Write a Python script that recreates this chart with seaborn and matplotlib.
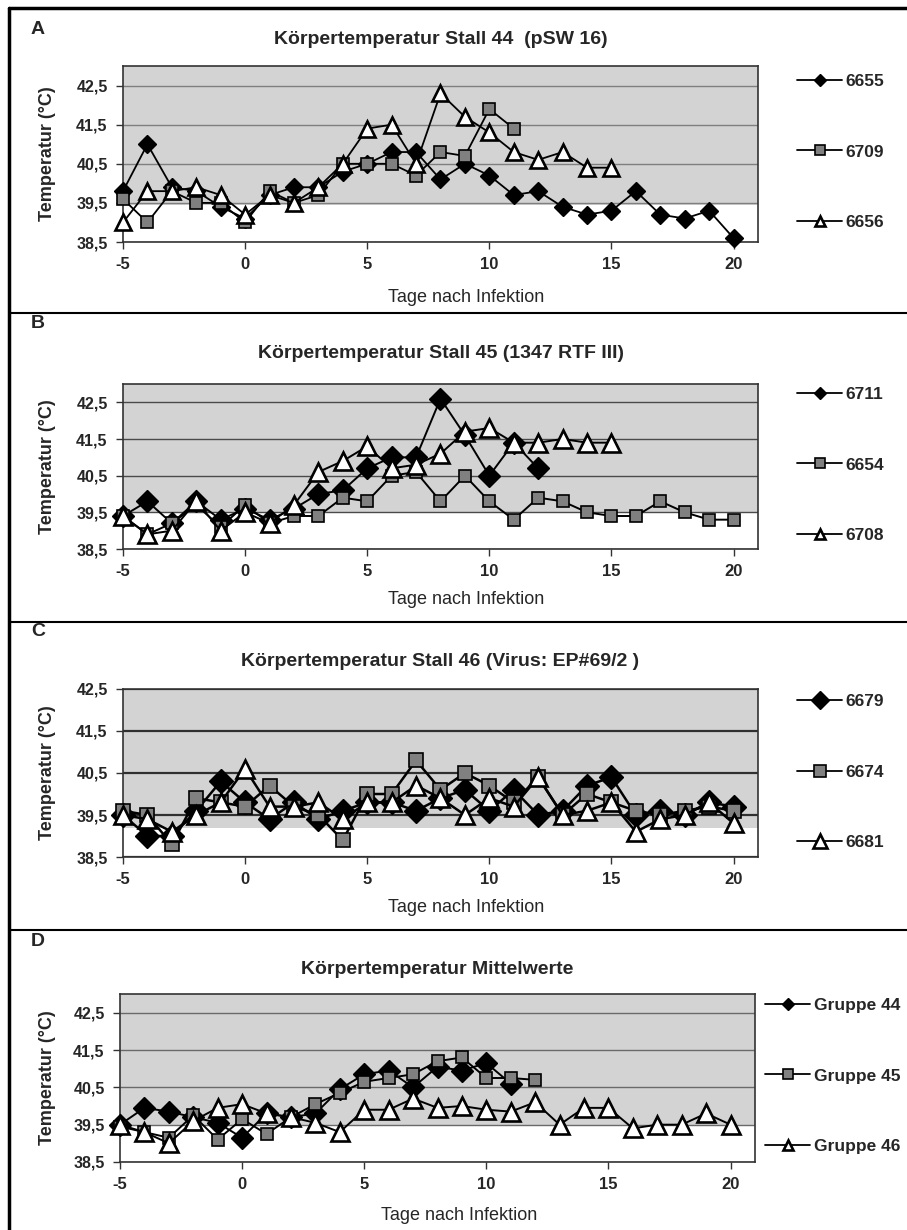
import numpy as np
import pandas as pd
import matplotlib
matplotlib.use("Agg")
import matplotlib.pyplot as plt
import seaborn as sns
from matplotlib.lines import Line2D

sns.set_theme(style="white")
plt.rcParams['font.family'] = ['Liberation Sans', 'DejaVu Sans']

# ---------------- data ----------------
ytick_vals = [38.5, 39.5, 40.5, 41.5, 42.5]
ytick_labels = ["38,5", "39,5", "40,5", "41,5", "42,5"]
xtick_vals = [-5, 0, 5, 10, 15, 20]
xlabel = "Tage nach Infektion"
ylabel = "Temperatur (°C)"

titles = ["Körpertemperatur Stall 44  (pSW 16)",
          "Körpertemperatur Stall 45 (1347 RTF III)",
          "Körpertemperatur Stall 46 (Virus: EP#69/2 )",
          "Körpertemperatur Mittelwerte"]
panel_letters = ["A", "B", "C", "D"]

# Panel A (Stall 44)
a_names = ["6655", "6709", "6656"]
a_6655 = [39.8, 41.0, 39.9, 39.8, 39.4, 39.1, 39.7, 39.9, 39.9, 40.3, 40.5, 40.8, 40.8,
          40.1, 40.5, 40.2, 39.7, 39.8, 39.4, 39.2, 39.3, 39.8, 39.2, 39.1, 39.3, 38.6]
a_6709 = [39.6, 39.0, 39.8, 39.5, 39.5, 39.0, 39.8, 39.5, 39.7, 40.5, 40.5, 40.5, 40.2,
          40.8, 40.7, 41.9, 41.4]
a_6656 = [39.0, 39.8, 39.8, 39.9, 39.7, 39.2, 39.7, 39.5, 39.9, 40.5, 41.4, 41.5, 40.5,
          42.3, 41.7, 41.3, 40.8, 40.6, 40.8, 40.4, 40.4]

# Panel B (Stall 45)
b_names = ["6711", "6654", "6708"]
b_6711 = [39.4, 39.8, 39.2, 39.8, 39.3, 39.6, 39.3, 39.6, 40.0, 40.1, 40.7, 41.0, 41.0,
          42.6, 41.6, 40.5, 41.4, 40.7]
b_6654 = [39.4, 38.9, 39.2, 39.7, 39.1, 39.7, 39.2, 39.4, 39.4, 39.9, 39.8, 40.5, 40.6,
          39.8, 40.5, 39.8, 39.3, 39.9, 39.8, 39.5, 39.4, 39.4, 39.8, 39.5, 39.3, 39.3]
b_6708 = [39.4, 38.9, 39.0, 39.8, 39.0, 39.5, 39.2, 39.7, 40.6, 40.9, 41.3, 40.7, 40.8,
          41.1, 41.7, 41.8, 41.4, 41.4, 41.5, 41.4, 41.4]

# Panel C (Stall 46)
c_names = ["6679", "6674", "6681"]
c_6679 = [39.5, 39.0, 39.0, 39.6, 40.3, 39.8, 39.4, 39.8, 39.4, 39.6, 39.8, 39.8, 39.6,
          39.9, 40.1, 39.6, 40.1, 39.5, 39.6, 40.2, 40.4, 39.5, 39.6, 39.5, 39.8, 39.7]
c_6674 = [39.6, 39.5, 38.8, 39.9, 39.8, 39.7, 40.2, 39.7, 39.5, 38.9, 40.0, 40.0, 40.8,
          40.1, 40.5, 40.2, 39.8, 40.4, 39.5, 40.0, 39.8, 39.6, 39.5, 39.6, 39.7, 39.6]
c_6681 = [39.5, 39.4, 39.1, 39.5, 39.8, 40.6, 39.7, 39.7, 39.8, 39.4, 39.8, 39.8, 40.2,
          39.9, 39.5, 39.9, 39.7, 40.4, 39.5, 39.6, 39.8, 39.1, 39.4, 39.5, 39.8, 39.3]

# Panel D (means)
d_names = ["Gruppe 44", "Gruppe 45", "Gruppe 46"]
d_g44 = [39.5, 39.95, 39.85, 39.7, 39.55, 39.15, 39.8, 39.7, 39.8, 40.45, 40.85, 40.95,
         40.5, 41.05, 40.95, 41.15, 40.6]
d_g45 = [39.45, 39.3, 39.15, 39.75, 39.1, 39.65, 39.25, 39.7, 40.05, 40.35, 40.65, 40.75,
         40.85, 41.2, 41.3, 40.75, 40.75, 40.7]
d_g46 = [39.5, 39.3, 39.0, 39.6, 39.95, 40.05, 39.8, 39.7, 39.55, 39.3, 39.9, 39.9, 40.2,
         39.95, 40.0, 39.9, 39.85, 40.1, 39.5, 39.95, 39.95, 39.4, 39.5, 39.5, 39.8, 39.5]

FIRST_DAY = -5

panels = [
    dict(names=a_names, series=[a_6655, a_6709, a_6656]),
    dict(names=b_names, series=[b_6711, b_6654, b_6708]),
    dict(names=c_names, series=[c_6679, c_6674, c_6681]),
    dict(names=d_names, series=[d_g44, d_g45, d_g46]),
]

# ---------------- style / layout ----------------
W, H = 907, 1230
fig = plt.figure(figsize=(W / 100, H / 100), dpi=100)
fig.patch.set_facecolor("white")

def fx(px):
    return px / W

def fy(py):
    return 1 - py / H

# axes boxes in pixels (left, top, right, bottom)
boxes = [(123, 66, 758, 242), (123, 384, 758, 549), (123, 689, 758, 857), (120, 994, 755, 1162)]
ylims = [(38.5, 43.0), (38.5, 43.0), (38.5, 42.5), (38.5, 43.0)]
shade_low = [39.45, 39.5, 39.2, 39.48]
title_y = [40, 354, 661, 969]
letter_y = [30, 323, 632, 942]
xlabel_y = [297, 600, 908, 1216]
xlabel_x = [466, 466, 466, 459]
grid_style = [dict(color="#7f7f7f", lw=1.0), dict(color="#4a4a4a", lw=1.0),
              dict(color="#303030", lw=1.6), dict(color="#6a6a6a", lw=1.0)]
line_w = [1.3, 1.4, 1.8, 1.4]
# marker sizes per panel (diamond, square, triangle)
msizes = [(9, 8, 12), (11, 9, 12.5), (12, 10, 13), (11, 9, 12.5)]
leg_ms = [(6, 7, 7.5), (6, 7, 7.5), (9.5, 8.5, 10), (6, 7, 7.5)]
legend_pos = [(797, 152), (797, 465), (797, 772), (765, 1076)]

styles = [dict(marker="D", markerfacecolor="black", markeredgecolor="black"),
          dict(marker="s", markerfacecolor="#808080", markeredgecolor="black"),
          dict(marker="^", markerfacecolor="white", markeredgecolor="black")]
mew = [1.0, 1.2, 1.9]

for i, p in enumerate(panels):
    l, t, r, b = boxes[i]
    ax = fig.add_axes([fx(l), fy(b), fx(r - l), (b - t) / H])
    ax.set_facecolor("white")
    ax.axhspan(shade_low[i], ylims[i][1], color="#d3d3d3", zorder=0, lw=0)
    for yv in ytick_vals:
        ax.axhline(yv, zorder=1, **grid_style[i])
    for k, (name, vals) in enumerate(zip(p["names"], p["series"])):
        days = list(range(FIRST_DAY, FIRST_DAY + len(vals)))
        sns.lineplot(x=days, y=vals, ax=ax, color="black", linewidth=line_w[i],
                     markersize=msizes[i][k], markeredgewidth=mew[k],
                     zorder=3 + k, legend=False, clip_on=False, **styles[k])
    ax.set_xlim(-5, 21)
    ax.set_ylim(*ylims[i])
    ax.set_xticks(xtick_vals)
    ax.set_xticklabels([str(v) for v in xtick_vals], fontsize=12, fontweight="bold")
    ax.set_yticks(ytick_vals)
    ax.set_yticklabels(ytick_labels, fontsize=11.5, fontweight="bold")
    ax.tick_params(axis="both", which="major", direction="out", length=5, width=1,
                   color="#333333", bottom=True, left=True)
    ax.tick_params(axis="x", pad=6)
    ax.tick_params(axis="y", pad=6)
    ax.set_xlabel("")
    ax.set_ylabel("")
    for s in ax.spines.values():
        s.set_color("#333333")
        s.set_linewidth(1.2)
        s.set_zorder(2)
    ax.grid(False)

    # legend
    handles = [Line2D([0], [0], color="black", lw=1.3, markersize=leg_ms[i][k],
                      markeredgewidth=mew[k], **styles[k]) for k in range(3)]
    lx, ly = legend_pos[i]
    fig.legend(handles, p["names"], loc="center left",
               bbox_to_anchor=(fx(lx), fy(ly)), frameon=False,
               prop=dict(size=12.5, weight="bold"), labelspacing=3.2,
               handlelength=2.6, handletextpad=0.2, borderpad=0, borderaxespad=0)

    # texts
    cx = (l + r) / 2
    fig.text(fx(cx), fy(title_y[i]), titles[i], ha="center", va="center",
             fontsize=14, fontweight="bold")
    fig.text(fx(38), fy(letter_y[i]), panel_letters[i], ha="center", va="center",
             fontsize=14, fontweight="bold")
    fig.text(fx(xlabel_x[i]), fy(xlabel_y[i]), xlabel, ha="center", va="center",
             fontsize=13)
    fig.text(fx(47), fy((t + b) / 2), ylabel, ha="center", va="center",
             rotation=90, fontsize=13, fontweight="bold")

# outer frame: left + top border and panel separators
frame_kw = dict(color="black", lw=2.5, transform=fig.transFigure)
fig.add_artist(Line2D([fx(9), fx(9)], [fy(8), 0], **frame_kw))
fig.add_artist(Line2D([fx(9), 1], [fy(8), fy(8)], **frame_kw))
for sy in [313, 622, 930]:
    fig.add_artist(Line2D([fx(9), 1], [fy(sy), fy(sy)], color="black", lw=1.5,
                          transform=fig.transFigure))

fig.savefig("out.png", dpi=100)
